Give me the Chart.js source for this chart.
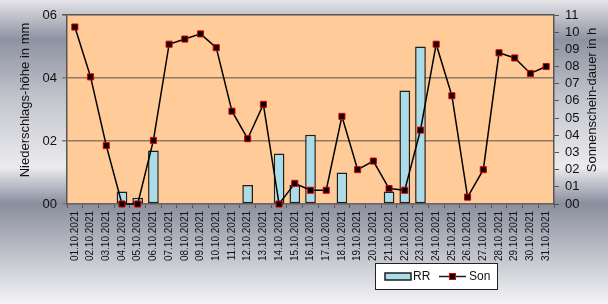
<!DOCTYPE html>
<html>
<head>
<title>RR / Son Oktober 2021</title>
<script src="https://cdn.jsdelivr.net/npm/chart.js"></script>
<style>
  html, body { margin: 0; padding: 0; }
  #wrap { width: 608px; height: 304px; }
</style>
</head>
<body>
<div id="wrap"><canvas id="chart" width="608" height="304"></canvas></div>
<script>
const days = ['01.10.2021', '02.10.2021', '03.10.2021', '04.10.2021', '05.10.2021', '06.10.2021',
    '07.10.2021', '08.10.2021', '09.10.2021', '10.10.2021', '11.10.2021', '12.10.2021',
    '13.10.2021', '14.10.2021', '15.10.2021', '16.10.2021', '17.10.2021', '18.10.2021',
    '19.10.2021', '20.10.2021', '21.10.2021', '22.10.2021', '23.10.2021', '24.10.2021',
    '25.10.2021', '26.10.2021', '27.10.2021', '28.10.2021', '29.10.2021', '30.10.2021', '31.10.2021'];
// Niederschlag in mm
const rr = [null, null, null, 0.4, 0.2, 1.7, null, null, null, null, null, 0.6, null, 1.6, 0.6, 2.2,
    null, 1.0, null, null, 0.4, 3.6, 5.0, null, null, null, null, null, null, null, null];
// Sonnenscheindauer in h
const son = [10.3, 7.4, 3.4, 0, 0, 3.7, 9.3, 9.6, 9.9, 9.1, 5.4, 3.8, 5.8, 0, 1.2, 0.8, 0.8, 5.1,
    2.0, 2.5, 0.9, 0.8, 4.3, 9.3, 6.3, 0.4, 2.0, 8.8, 8.5, 7.6, 8.0];
const rrTicks = ['00', '02', '04', '06'];
const sonTicks = ['00', '01', '02', '03', '04', '05', '06', '07', '08', '09', '10', '11'];

const FONT = 'Liberation Sans, Arial, sans-serif';
const barFill = '#aadcea';
const barLine = '#1e1e1e';

const backdrop = {
    id: 'backdrop',
    beforeDraw(chart) {
        const ctx = chart.ctx;
        const a = chart.chartArea;
        const g = ctx.createLinearGradient(0, 0, 0, chart.height);
        g.addColorStop(0, '#e4e4e8');
        g.addColorStop(0.13, '#8e92a2');
        g.addColorStop(0.33, '#c4c6ce');
        g.addColorStop(0.55, '#ececee');
        g.addColorStop(0.67, '#8a8e9e');
        g.addColorStop(1, '#f4f4f6');
        ctx.save();
        ctx.fillStyle = g;
        ctx.fillRect(0, 0, chart.width, chart.height);
        ctx.fillStyle = '#ffcc99';
        ctx.fillRect(a.left, a.top, a.right - a.left, a.bottom - a.top);
        ctx.restore();
    }
};

const extras = {
    id: 'extras',
    afterDraw(chart) {
        const ctx = chart.ctx;
        ctx.save();
        ctx.fillStyle = '#111';
        ctx.font = '13px ' + FONT;
        ctx.textAlign = 'center';
        ctx.textBaseline = 'middle';
        // axis titles, both read bottom to top
        ctx.save();
        ctx.translate(25, 100);
        ctx.rotate(-Math.PI / 2);
        ctx.fillText('Niederschlags-höhe in mm', 0, 0);
        ctx.restore();
        ctx.save();
        ctx.translate(592, 100);
        ctx.rotate(-Math.PI / 2);
        ctx.fillText('Sonnenschein-dauer in h', 0, 0);
        ctx.restore();

        // legend
        ctx.fillStyle = '#fff';
        ctx.fillRect(375, 263, 122, 26);
        ctx.strokeStyle = '#222';
        ctx.lineWidth = 1;
        ctx.strokeRect(375.5, 263.5, 122, 26);
        ctx.fillStyle = barFill;
        ctx.fillRect(385, 273, 26, 7);
        ctx.strokeStyle = barLine;
        ctx.lineWidth = 1.5;
        ctx.strokeRect(385, 273, 26, 7);
        ctx.beginPath();
        ctx.moveTo(439, 276.5);
        ctx.lineTo(466, 276.5);
        ctx.stroke();
        ctx.fillStyle = '#000';
        ctx.fillRect(449, 273, 7, 7);
        ctx.strokeStyle = '#e00000';
        ctx.lineWidth = 1;
        ctx.strokeRect(449.5, 273.5, 6, 6);
        ctx.fillStyle = '#111';
        ctx.font = '12px ' + FONT;
        ctx.textAlign = 'left';
        ctx.fillText('RR', 413, 277);
        ctx.fillText('Son', 469, 277);
        ctx.restore();
    }
};

new Chart(document.getElementById('chart'), {
    type: 'bar',
    data: {
        labels: days,
        datasets: [
            {
                type: 'line',
                label: 'Son',
                data: son,
                yAxisID: 'y1',
                order: 1,
                borderColor: '#000',
                borderWidth: 1.5,
                tension: 0,
                clip: false,
                pointStyle: 'rect',
                pointRadius: 4.3,
                pointBackgroundColor: '#000',
                pointBorderColor: '#e00000',
                pointBorderWidth: 1
            },
            {
                type: 'bar',
                label: 'RR',
                data: rr,
                yAxisID: 'y',
                order: 2,
                backgroundColor: barFill,
                borderColor: barLine,
                borderWidth: 1.5,
                borderSkipped: false,
                categoryPercentage: 1,
                barPercentage: 0.68
            }
        ]
    },
    options: {
        responsive: false,
        animation: false,
        events: [],
        layout: { padding: { top: 15, left: 0, right: 0, bottom: 0 } },
        plugins: {
            legend: { display: false },
            tooltip: { enabled: false }
        },
        scales: {
            x: {
                afterFit: s => { s.height = 100; },
                grid: { drawOnChartArea: false, tickLength: 4, color: '#555', offset: true },
                border: { color: '#666', width: 1.5 },
                ticks: {
                    autoSkip: false, minRotation: 90, maxRotation: 90, padding: 3,
                    color: '#111', font: { family: FONT, size: 10 }
                }
            },
            y: {
                position: 'left',
                min: 0, max: 6,
                afterFit: s => { s.width = 67; },
                grid: {
                    color: ctx => ctx.tick && ctx.tick.value === 6 ? '#555' : '#8c7a66',
                    lineWidth: 1.5,
                    tickLength: 5
                },
                border: { color: '#555', width: 1.5 },
                ticks: {
                    stepSize: 2, padding: 5, color: '#111', autoSkip: false,
                    font: { family: FONT, size: 13 },
                    callback: (v, i) => rrTicks[i]
                }
            },
            y1: {
                position: 'right',
                min: 0, max: 11,
                afterFit: s => { s.width = 54; },
                grid: { drawOnChartArea: false, tickLength: 5, color: '#555', lineWidth: 1 },
                border: { color: '#555', width: 1.5 },
                ticks: {
                    stepSize: 1, padding: 6, color: '#111', autoSkip: false,
                    font: { family: FONT, size: 13 },
                    callback: (v, i) => sonTicks[i]
                }
            }
        }
    },
    plugins: [backdrop, extras]
});
</script>
</body>
</html>
